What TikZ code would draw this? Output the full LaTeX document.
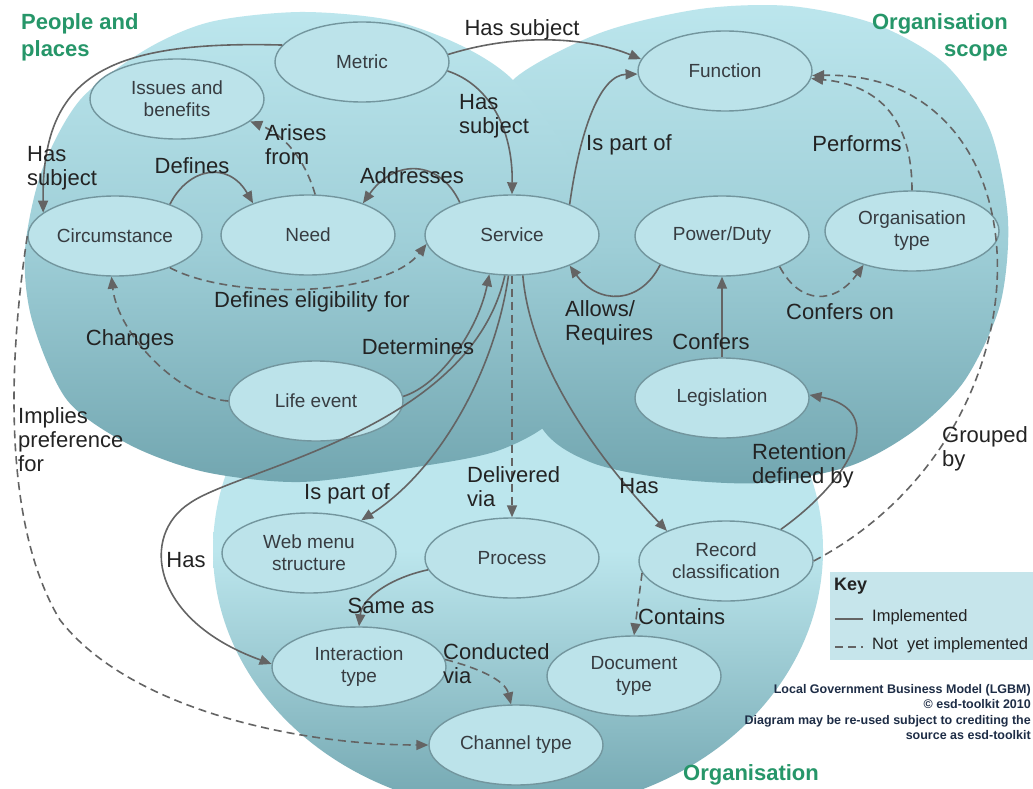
\documentclass[tikz,border=0pt]{standalone}
\usepackage{fontspec}
\setmainfont{Liberation Sans}
\usetikzlibrary{shapes.geometric, arrows.meta}

\definecolor{arealight}{RGB}{188,230,237}
\definecolor{areamid}{RGB}{158,206,215}
\definecolor{areadark}{RGB}{114,166,176}
\definecolor{conceptfill}{RGB}{188,227,234}
\definecolor{conceptrim}{RGB}{115,150,158}
\definecolor{conceptink}{RGB}{55,60,65}
\definecolor{relgray}{RGB}{100,100,100}
\definecolor{labelink}{RGB}{35,35,35}
\definecolor{titlegreen}{RGB}{38,150,105}
\definecolor{keyfill}{RGB}{198,229,235}
\definecolor{footink}{RGB}{30,45,70}

\tikzset{
  concept/.style={ellipse, draw=conceptrim, line width=1.4pt, fill=conceptfill,
    text=conceptink, minimum width=174pt, minimum height=80pt, inner sep=0pt,
    align=center, font={\fontsize{19}{22}\selectfont}},
  rel/.style={draw=relgray, line width=1.6pt, -{Triangle[length=12pt,width=10pt]}},
  maybe/.style={rel, dash pattern=on 8pt off 5pt},
  rellabel/.style={text=labelink, font={\fontsize{22}{24}\selectfont}, align=left, inner sep=0pt},
  areatitle/.style={text=titlegreen, font={\bfseries\fontsize{22}{27}\selectfont}, inner sep=0pt},
  keytext/.style={text=labelink, font={\fontsize{16.5}{19}\selectfont}, inner sep=0pt, anchor=west}
}

\begin{document}
\begin{tikzpicture}[x=1pt, y=-1pt]
  \useasboundingbox (0,0) rectangle (1033,789);
  \fill[white] (0,0) rectangle (1033,789);

  % the three areas
  \shade[top color=arealight, bottom color=areadark, middle color=arealight]
    (518,550) ellipse [x radius=305pt, y radius=262pt];   %organisation
  \shade[top color=arealight, bottom color=areadark, middle color=areamid]
    plot[smooth cycle] coordinates {(513,80) (600,33) (700,9) (790,6) (875,24) (945,64)
      (990,130) (1008,220) (1000,305) (965,380) (915,430) (850,466) (760,483) (665,478)
      (590,462) (540,425) (508,320) (500,210) (505,130)};   %organisation scope
  \shade[top color=arealight, bottom color=areadark, middle color=areamid]
    plot[smooth cycle] coordinates {(25,250) (42,170) (80,100) (145,50) (210,22) (300,12)
      (390,20) (460,45) (513,80) (565,150) (590,240) (585,330) (560,412) (500,450)
      (410,468) (300,482) (205,472) (130,445) (67,400) (32,320)};   %people and places

  \node[areatitle, anchor=north west, align=left] (tpeople) at (21,13) {People and\\places};
  \node[areatitle, anchor=north east, align=right] (tscope) at (1008,13) {Organisation\\scope};
  \node[areatitle] (torg) at (751,775) {Organisation};

  % concepts
  \node[concept] (metric)      at (362,62)  {Metric};
  \node[concept] (issues)      at (177,99)  {Issues and\\benefits};
  \node[concept] (circ)        at (115,236) {Circumstance};
  \node[concept] (need)        at (308,235) {Need};
  \node[concept] (service)     at (512,235) {Service};
  \node[concept] (function)    at (725,71)  {Function};
  \node[concept] (power)       at (722,236) {Power/Duty};
  \node[concept] (orgtype)     at (912,231) {Organisation\\type};
  \node[concept] (life)        at (316,401) {Life event};
  \node[concept] (legislation) at (722,398) {Legislation};
  \node[concept] (webmenu)     at (309,553) {Web menu\\structure};
  \node[concept] (process)     at (512,558) {Process};
  \node[concept] (record)      at (726,561) {Record\\classification};
  \node[concept] (interaction) at (359,667) {Interaction\\type};
  \node[concept] (document)    at (634,676) {Document\\type};
  \node[concept] (channel)     at (516,745) {Channel type};

  % relations
  \draw[rel] (metric.168) .. controls (100,40) and (42,80) .. (circ.162);
  \draw[rel] (metric.5) .. controls (520,32) and (590,38) .. (function.172);
  \draw[rel] (metric.-6) .. controls (490,85) and (513,130) .. (service.north);
  \draw[rel] (circ.30) .. controls (188,168) and (228,160) .. (need.150);
  \draw[maybe] (need.80) .. controls (305,160) and (285,135) .. (issues.-17);
  \draw[rel] (service.148) .. controls (440,160) and (395,158) .. (need.30);
  \draw[maybe] (circ.-30) .. controls (230,300) and (385,298) .. (service.186);
  \draw[maybe] (life.180) .. controls (180,398) and (118,335) .. (circ.-95);
  \draw[rel] (life.3) .. controls (440,385) and (478,330) .. (service.-120);
  \draw[rel] (service.28) .. controls (580,130) and (600,75) .. (function.182);
  \draw[rel] (power.205) .. controls (640,305) and (598,305) .. (service.-28);
  \draw[rel] (legislation.north) -- (power.south);
  \draw[maybe] (power.-28) .. controls (800,305) and (835,305) .. (orgtype.-145);
  \draw[maybe] (orgtype.north) .. controls (912,120) and (880,85) .. (function.-5);
  \draw[maybe] (record.east) .. controls (1062,430) and (1052,70) .. (function.-3);
  \draw[rel] (record.30) .. controls (850,480) and (890,410) .. (legislation.2);
  \draw[rel] (service.-75) .. controls (530,360) and (590,450) .. (record.153);
  \draw[maybe] (service.south) -- (process.north);
  \draw[rel] (service.-95) .. controls (495,370) and (440,470) .. (webmenu.32);
  \draw[rel] (service.-100) .. controls (470,430) and (240,468) .. (190,503)
    .. controls (140,535) and (150,620) .. (interaction.178);
  \draw[rel] (process.188) .. controls (390,578) and (362,598) .. (interaction.north);
  \draw[maybe] (interaction.5) .. controls (478,668) and (505,680) .. (channel.97);
  \draw[maybe] (record.188) -- (document.north);
  \draw[maybe] (circ.west) .. controls (10,350) and (0,520) .. (60,620)
    .. controls (130,710) and (300,745) .. (channel.west);

  % relation labels
  \node[rellabel, anchor=west] (lsubjcirc) at (27,168)  {Has\\subject};
  \node[rellabel] (lsubjfunc)              at (522,30)  {Has subject};
  \node[rellabel, anchor=west] (lsubjserv) at (459,116) {Has\\subject};
  \node[rellabel] (ldefines)               at (192,166) {Defines};
  \node[rellabel, anchor=west] (larises)   at (265,145) {Arises\\from};
  \node[rellabel] (laddresses)             at (412,176) {Addresses};
  \node[rellabel] (leligible)              at (312,302) {Defines eligibility for};
  \node[rellabel] (lchanges)               at (130,340) {Changes};
  \node[rellabel] (ldetermines)            at (418,347) {Determines};
  \node[rellabel] (lpartfunc)              at (629,145) {Is part of};
  \node[rellabel, anchor=west] (lallows)   at (565,323) {Allows/\\Requires};
  \node[rellabel] (lconfers)               at (711,342) {Confers};
  \node[rellabel] (lconferson)             at (840,312) {Confers on};
  \node[rellabel] (lperforms)              at (857,144) {Performs};
  \node[rellabel, anchor=west] (lgrouped)  at (942,449) {Grouped\\by};
  \node[rellabel, anchor=west] (lretain)   at (752,466) {Retention\\defined by};
  \node[rellabel] (lhasrec)                at (639,486) {Has};
  \node[rellabel, anchor=west] (ldeliver)  at (467,487) {Delivered\\via};
  \node[rellabel] (lpartweb)               at (347,494) {Is part of};
  \node[rellabel] (lhasint)                at (186,560) {Has};
  \node[rellabel] (lsame)                  at (391,606) {Same as};
  \node[rellabel, anchor=west] (lconduct)  at (443,664) {Conducted\\via};
  \node[rellabel, anchor=west] (lcontains) at (638,617) {Contains};
  \node[rellabel, anchor=west] (limplies)  at (18,440)  {Implies\\preference\\for};

  % key
  \fill[keyfill] (830,572) rectangle (1033,660);
  \node[text=labelink, font={\bfseries\fontsize{18}{20}\selectfont}, inner sep=0pt, anchor=west] (keyhead) at (834,586) {Key};
  \draw[relgray, line width=1.5pt] (835,619) -- (863,619);
  \node[keytext] (keysolid) at (872,617) {Implemented};
  \draw[relgray, line width=1.5pt, dash pattern=on 8pt off 5pt] (835,647) -- (863,647);
  \node[keytext] (keydash) at (872,645) {Not\ \ yet implemented};

  \node[anchor=north east, align=right, text=footink, inner sep=0pt,
    font={\bfseries\fontsize{12.5}{15.5}\selectfont}] (credit) at (1031,684)
    {Local Government Business Model (LGBM)\\ © esd-toolkit 2010\\
     Diagram may be re-used subject to crediting the\\ source as esd-toolkit};
\end{tikzpicture}
\end{document}
